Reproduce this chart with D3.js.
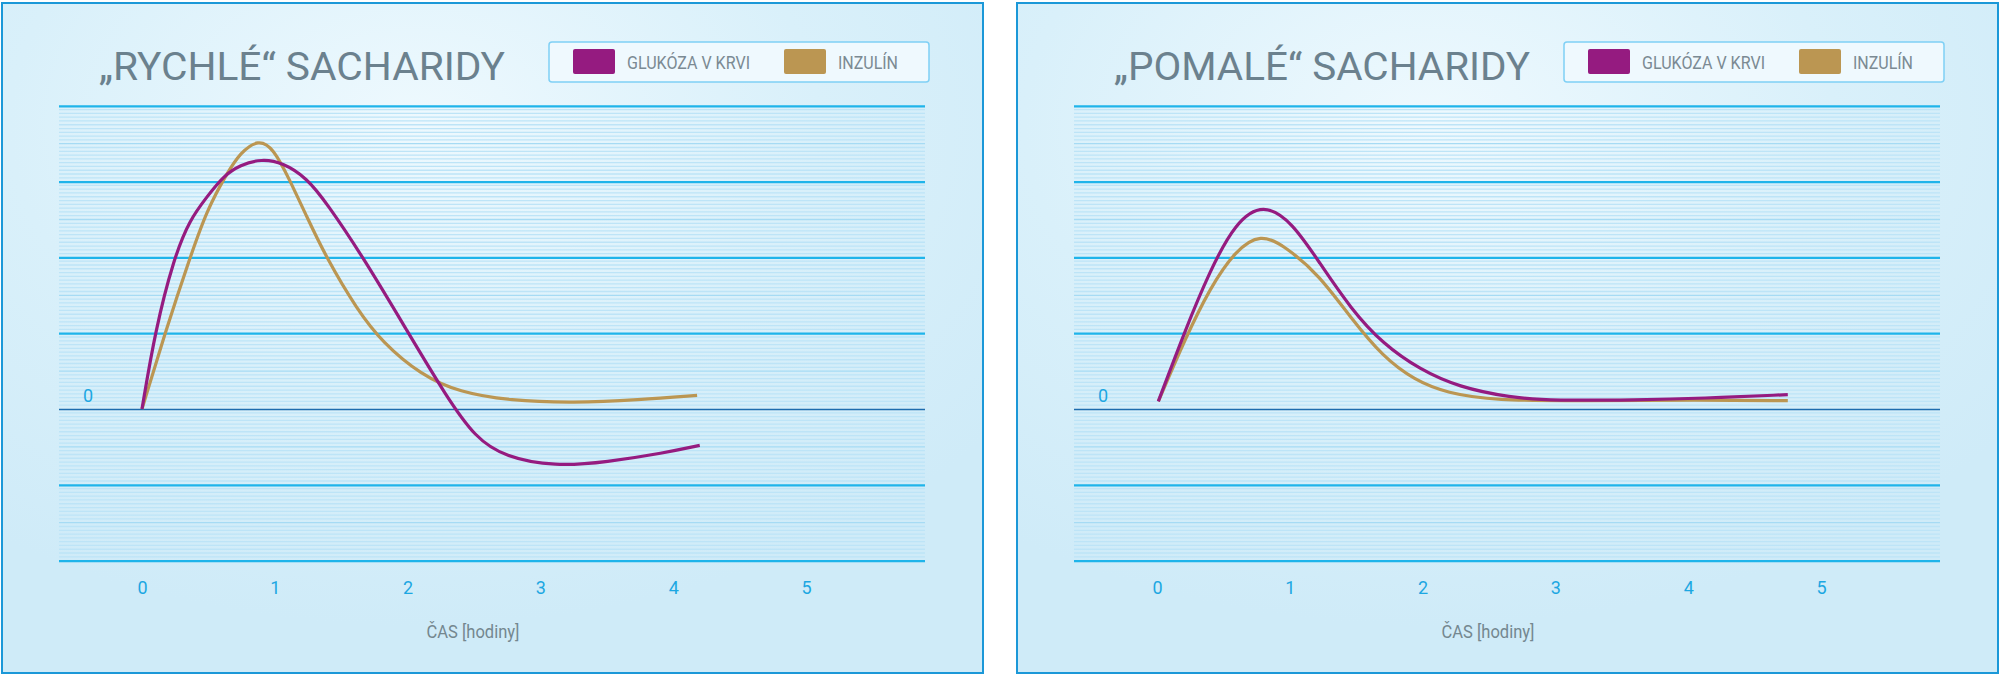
<!DOCTYPE html>
<html>
<head>
<meta charset="utf-8">
<script src="https://cdn.jsdelivr.net/npm/d3@7"></script>
<style>
  body { margin: 0; background: #fff; }
  svg { display: block; }
</style>
</head>
<body>
<div id="chart"></div>
<script>
// ---- data ----
var xTicks = [0, 1, 2, 3, 4, 5];
var yGrid = [-2, -1, 0, 1, 2, 3, 4];
var legendLabels = ["GLUKÓZA V KRVI", "INZULÍN"];
var axisTitle = "ČAS [hodiny]";
var panelTitles = ["\u201ERYCHLÉ\u201C SACHARIDY", "\u201EPOMALÉ\u201C SACHARIDY"];

// "rychlé" (fast) carbohydrates
var fastGlucoseT = [0, 0.1, 0.24, 0.36, 0.49, 0.61, 0.74, 0.9, 1.06, 1.24, 1.39, 1.67, 2.0, 2.29, 2.51, 2.73, 3.11, 3.5, 3.93, 4.2];
var fastGlucose  = [0, 1.04, 1.99, 2.5, 2.8, 3.07, 3.22, 3.3, 3.25, 3.05, 2.72, 1.99, 1.02, 0.17, -0.38, -0.63, -0.76, -0.7, -0.58, -0.48];
var fastInsulinT = [0, 0.18, 0.36, 0.49, 0.64, 0.74, 0.876, 0.99, 1.11, 1.24, 1.39, 1.62, 1.81, 2.1, 2.39, 2.77, 3.25, 3.74, 4.18];
var fastInsulin  = [0, 1.04, 1.99, 2.63, 3.11, 3.38, 3.56, 3.44, 3.03, 2.54, 1.99, 1.31, 0.88, 0.45, 0.22, 0.11, 0.08, 0.12, 0.18];

// "pomalé" (slow) carbohydrates
var slowGlucoseT = [0.01, 0.21, 0.4, 0.59, 0.8, 1.02, 1.22, 1.46, 1.7, 1.98, 2.27, 2.66, 2.99, 3.62, 4.1, 4.75];
var slowGlucose  = [0.1, 1.03, 1.83, 2.46, 2.72, 2.46, 1.94, 1.32, 0.86, 0.52, 0.29, 0.15, 0.11, 0.12, 0.14, 0.19];
var slowInsulinT = [0.01, 0.21, 0.4, 0.59, 0.78, 0.97, 1.22, 1.46, 1.7, 1.94, 2.18, 2.56, 3.14, 4.1, 4.75];
var slowInsulin  = [0.1, 0.92, 1.6, 2.09, 2.32, 2.14, 1.77, 1.2, 0.69, 0.38, 0.21, 0.11, 0.11, 0.12, 0.11];

var glucoseColor = "#951b80";
var insulinColor = "#bb9652";

var panels = [
  { x: 2, title: panelTitles[0], titleLen: 406, glucoseT: fastGlucoseT, glucose: fastGlucose, insulinT: fastInsulinT, insulin: fastInsulin },
  { x: 1017, title: panelTitles[1], titleLen: 416, glucoseT: slowGlucoseT, glucose: slowGlucose, insulinT: slowInsulinT, insulin: slowInsulin }
];

var width = 2000, height = 676;
var panelW = 981, panelH = 670;
var plotLeft = 57, plotRight = 923;

var svg = d3.select("#chart").append("svg")
  .attr("width", width)
  .attr("height", height)
  .style("font-family", "Roboto, 'Liberation Sans', sans-serif");

var defs = svg.append("defs");
var grad = defs.append("radialGradient")
  .attr("id", "panelBg")
  .attr("cx", "42%").attr("cy", "18%").attr("r", "75%");
grad.append("stop").attr("offset", "0%").attr("stop-color", "#eef9fe");
grad.append("stop").attr("offset", "55%").attr("stop-color", "#d9f0fa");
grad.append("stop").attr("offset", "100%").attr("stop-color", "#cfebf8");

var xScale = d3.scaleLinear().domain([0, 5]).range([140, 804]);
var yScale = d3.scaleLinear().domain([-2, 4]).range([557.6, 102.8]);

var line = d3.line()
  .x(function(d) { return xScale(d[0]); })
  .y(function(d) { return yScale(d[1]); })
  .curve(d3.curveBasis);

// thin stripes between the grid lines: 20 per band
var stripes = d3.range(-2, 4.0001, 0.05).filter(function(v) {
  return Math.abs(v - Math.round(v)) > 0.01;
});

panels.forEach(function(p) {
  var g = svg.append("g").attr("transform", `translate(${p.x}, 3)`);

  g.append("rect")
    .attr("x", 0).attr("y", 0)
    .attr("width", panelW).attr("height", panelH)
    .attr("fill", "url(#panelBg)")
    .attr("stroke", "#1b98d8")
    .attr("stroke-width", 2);

  // stripes
  g.append("g").selectAll("line")
    .data(stripes)
    .enter()
    .append("line")
    .attr("x1", plotLeft).attr("x2", plotRight)
    .attr("y1", function(d) { return yScale(d); })
    .attr("y2", function(d) { return yScale(d); })
    .attr("stroke", function(d) {
      var frac = Math.abs(d - Math.floor(d) - 0.5);
      return frac < 0.01 ? "#a6dbf4" : "#bde4f7";
    })
    .attr("stroke-width", 1.3);

  // major grid lines
  var yAxis = d3.axisLeft(yScale)
    .tickValues(yGrid)
    .tickSize(-(plotRight - plotLeft))
    .tickFormat("");

  var grid = g.append("g")
    .attr("class", "y grid")
    .attr("transform", `translate(${plotLeft}, 0)`)
    .call(yAxis);
  grid.select(".domain").remove();
  grid.selectAll(".tick line")
    .attr("stroke", function(d) { return d === 0 ? "#1d6cae" : "#1fb4ea"; })
    .attr("stroke-width", function(d) { return d === 0 ? 1.6 : 2.2; });

  // "0" label on y
  g.append("text")
    .attr("x", 86)
    .attr("y", yScale(0) - 7)
    .attr("text-anchor", "middle")
    .attr("fill", "#1ca7e2")
    .attr("font-size", 18)
    .text("0");

  // x axis labels
  var xAxis = d3.axisBottom(xScale)
    .tickValues(xTicks)
    .tickSize(0)
    .tickPadding(0)
    .tickFormat(d3.format("d"));

  var xa = g.append("g")
    .attr("class", "x axis")
    .attr("transform", "translate(0, 578)")
    .call(xAxis);
  xa.select(".domain").remove();
  xa.selectAll(".tick text")
    .attr("fill", "#1ca7e2")
    .attr("font-size", 18)
    .attr("font-family", "Roboto, sans-serif");

  g.append("text")
    .attr("x", 471)
    .attr("y", 635)
    .attr("text-anchor", "middle")
    .attr("fill", "#74878f")
    .attr("font-size", 18)
    .attr("textLength", 93)
    .attr("lengthAdjust", "spacingAndGlyphs")
    .text(axisTitle);

  // title
  g.append("text")
    .attr("x", 97)
    .attr("y", 77)
    .attr("fill", "#6b818e")
    .attr("font-size", 38)
    .attr("textLength", p.titleLen)
    .attr("lengthAdjust", "spacingAndGlyphs")
    .text(p.title);

  // legend
  var lg = g.append("g");
  lg.append("rect")
    .attr("x", 547).attr("y", 39)
    .attr("width", 380).attr("height", 40)
    .attr("rx", 3)
    .attr("fill", "#eff9fe")
    .attr("stroke", "#7fd0f5")
    .attr("stroke-width", 1.5);
  var items = [
    { label: legendLabels[0], color: glucoseColor, x: 571, len: 123 },
    { label: legendLabels[1], color: insulinColor, x: 782, len: 60 }
  ];
  items.forEach(function(it) {
    lg.append("rect")
      .attr("x", it.x).attr("y", 46)
      .attr("width", 42).attr("height", 25)
      .attr("rx", 2)
      .attr("fill", it.color);
    lg.append("text")
      .attr("x", it.x + 54)
      .attr("y", 66)
      .attr("fill", "#7b8a93")
      .attr("font-size", 18)
      .attr("textLength", it.len)
      .attr("lengthAdjust", "spacingAndGlyphs")
      .text(it.label);
  });

  // curves
  g.append("path")
    .datum(d3.zip(p.insulinT, p.insulin))
    .attr("fill", "none")
    .attr("stroke", insulinColor)
    .attr("stroke-width", 3.2)
    .attr("d", line);

  g.append("path")
    .datum(d3.zip(p.glucoseT, p.glucose))
    .attr("fill", "none")
    .attr("stroke", glucoseColor)
    .attr("stroke-width", 3.2)
    .attr("d", line);
});
</script>
</body>
</html>
